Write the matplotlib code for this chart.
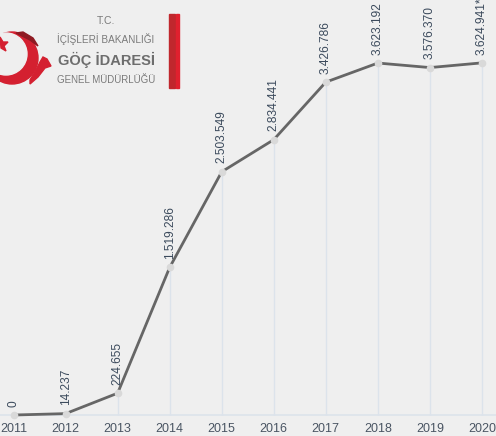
import matplotlib
matplotlib.use("Agg")
import matplotlib.pyplot as plt
from matplotlib.patches import Circle, Polygon, Rectangle
from matplotlib.transforms import Affine2D

years = [2011, 2012, 2013, 2014, 2015, 2016, 2017, 2018, 2019, 2020]
values = [0, 14237, 224655, 1519286, 2503549, 2834441, 3426786, 3623192, 3576370, 3624941]
labels = ["0", "14.237", "224.655", "1.519.286", "2.503.549", "2.834.441",
          "3.426.786", "3.623.192", "3.576.370", "3.624.941*"]

bg = "#efefef"
W, H = 496, 436
fig = plt.figure(figsize=(W / 100, H / 100), dpi=100, facecolor=bg)
ax = fig.add_axes([0, 0, 1, 1], facecolor=bg)

# drop lines from each point down to the baseline
ax.vlines(years, 0, values, color="#dce3eb", lw=1, zorder=1)
ax.axhline(0, color="#dce3eb", lw=1.2, zorder=1)
ax.plot(years, values, color="#666666", lw=2.0, zorder=3,
        marker="o", ms=4.5, mfc="#d9d9d9", mec="#d9d9d9")

for x, v, t in zip(years, values, labels):
    ax.annotate(t, (x, v), xytext=(0, 6), textcoords="offset points",
                rotation=90, ha="center", va="bottom", fontsize=8.6,
                family="Liberation Sans", color="#3b4a5c", zorder=4)

for x in years:
    ax.text(x, -0.145e6, str(x), ha="center", va="center", fontsize=9,
            family="Liberation Sans", color="#4a5563")

ax.set_xlim(2010.74, 2020.27)
ax.set_ylim(-0.216e6, 4.272e6)
ax.axis("off")

# logo, drawn in pixel coordinates with origin top-left
pix = Affine2D().scale(1 / W, -1 / H).translate(0, 1) + fig.transFigure
red = "#d42030"

def add(p):
    p.set_transform(pix)
    p.set_figure(fig)
    fig.patches.append(p)

add(Circle((12, 58), 26, color=red))
add(Circle((6, 54), 21, color=bg))
add(Polygon([(16, 33), (23, 32), (33, 38), (38, 46), (30, 40)], closed=True, color="#8e1a22"))
add(Polygon([(30, 80), (36, 70), (40, 62), (43, 57), (47, 59), (51, 66), (45, 68),
             (38, 77), (30, 84)], closed=True, color=red))
add(Polygon([(0, 37), (3, 42), (8, 42), (4, 46), (6, 51), (1, 48)], closed=True, color=red))
add(Rectangle((169, 14), 5.5, 74, color="#c0272d"))
add(Rectangle((176, 14), 2.5, 74, color="#e0202e"))

tc = "#7a7a7a"
fam = ["Liberation Sans", "DejaVu Sans"]
fig.text(106, 21, "T.C.", transform=pix, ha="center", va="center",
         fontsize=7.5, color=tc, family=fam)
fig.text(106, 39, "İÇİŞLERİ BAKANLIĞI", transform=pix, ha="center", va="center",
         fontsize=7.2, color=tc, family=fam)
fig.text(106, 60, "GÖÇ İDARESİ", transform=pix, ha="center", va="center",
         fontsize=10.5, color="#6d6d6d", weight="bold", family=fam)
fig.text(106, 80, "GENEL MÜDÜRLÜĞÜ", transform=pix, ha="center", va="center",
         fontsize=7.0, color=tc, family=fam)

fig.savefig("out.png", dpi=100, facecolor=bg)
